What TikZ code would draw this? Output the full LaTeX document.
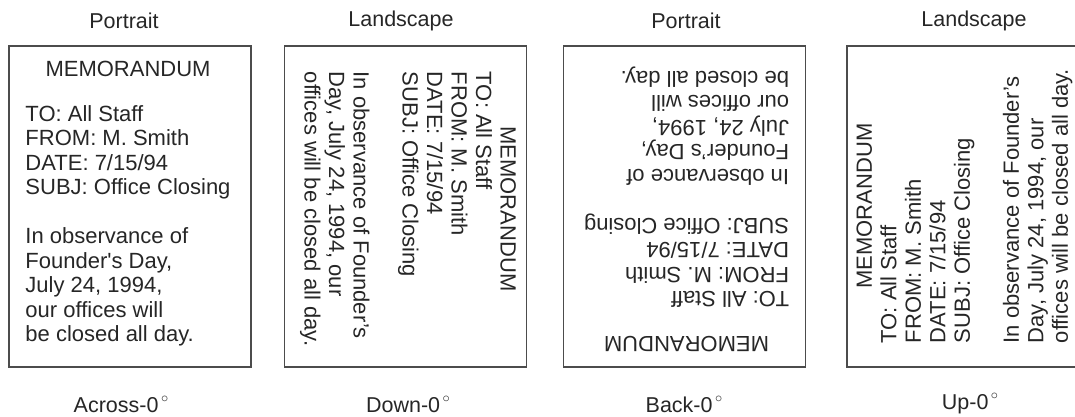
\documentclass[tikz,border=0pt]{standalone}
\usepackage{fontspec}
\setmainfont{Liberation Sans}
\begin{document}
\begin{tikzpicture}[x=1pt,y=-1pt,
  page/.style={draw=black!70, line width=1.4pt, minimum width=242pt, minimum height=321pt, inner sep=0pt},
  lbl/.style={font=\fontsize{21.5}{24.5}\selectfont, text=black!85, inner sep=0pt},
  body/.style={font=\fontsize{22}{24.5}\selectfont, text=black!85, inner sep=0pt}]
\useasboundingbox (0,0) rectangle (1075,416);
\clip (0,0) rectangle (1075,416);
\newcommand{\portraittext}[1]{\begin{tabular}{@{}l@{}}\multicolumn{1}{@{}c@{}}{MEMORANDUM}\\[20.5pt]
TO: All Staff\\ FROM: M. Smith\\ DATE: 7/15/94\\ SUBJ: Office Closing\\[24.5pt]
In observance of\\ Founder#1s Day,\\ July 24, 1994,\\ our offices will\\ be closed all day.\end{tabular}}
\newcommand{\landscapetext}{\begin{tabular}{@{}l@{}}\multicolumn{1}{@{}c@{}}{MEMORANDUM}\\
TO: All Staff\\ FROM: M. Smith\\ DATE: 7/15/94\\ SUBJ: Office Closing\\[24.5pt]
In observance of Founder's\\ Day, July 24, 1994, our\\ offices will be closed all day.\end{tabular}}
\newcommand{\dg}{\kern2.5pt\raisebox{10pt}{$\scriptstyle\circ$}}
% pages
\node[page] (p1) at (130,206.5) {};
\node[page] (p2) at (405.5,206.5) {};
\node[page] (p3) at (684.5,206.5) {};
\node[page] (p4) at (968,206.5) {};
% contents
\node[body] (t1) at (128,204) {\portraittext{\textquotesingle}};
\node[body, rotate=-90] (t2) at (407.5,209) {\landscapetext};
\node[body, rotate=180] (t3) at (686.5,209) {\portraittext{'}};
\node[body, rotate=90] (t4) at (965,206) {\landscapetext};
% titles
\node[lbl] (h1) at (124,21) {Portrait};
\node[lbl] (h2) at (401,21) {Landscape};
\node[lbl] (h3) at (686,21) {Portrait};
\node[lbl] (h4) at (974,21) {Landscape};
% captions
\node[lbl] (c1) at (121,404) {Across-0\dg};
\node[lbl] (c2) at (408,404) {Down-0\dg};
\node[lbl] (c3) at (684,404) {Back-0\dg};
\node[lbl] (c4) at (970,404) {Up-0\dg};
\end{tikzpicture}
\end{document}
